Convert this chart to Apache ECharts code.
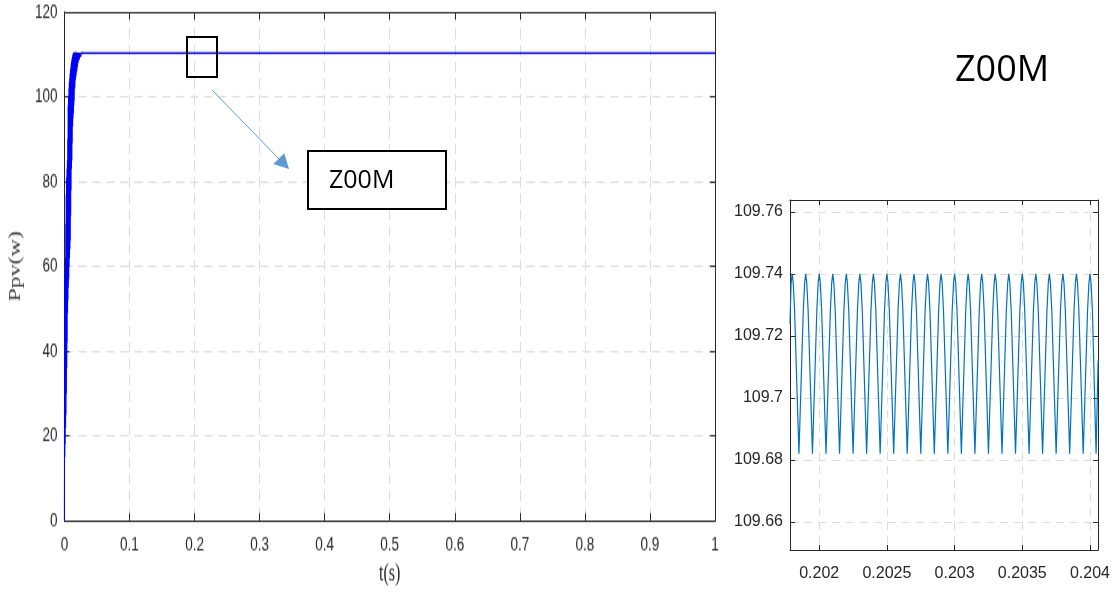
<!DOCTYPE html>
<html>
<head>
<meta charset="utf-8">
<script src="https://cdn.jsdelivr.net/npm/echarts@6/dist/echarts.min.js"></script>
<style>
  html, body { margin: 0; padding: 0; background: #fff; width: 1113px; height: 594px; overflow: hidden; }
  body { position: relative; }
  /* PV power plot is drawn at 2/3 height and stretched vertically */
  #pv { position: absolute; left: 0; top: 0; width: 740px; height: 396px; transform: scaleY(1.5); transform-origin: 0 0; }
  #zoom { position: absolute; left: 0; top: 0; width: 1113px; height: 594px; }
</style>
</head>
<body>
<div id="pv"></div>
<div id="zoom"></div>
<script>
// ---- PV power over the full run (s, W) ----
const ppvTime = [
  0, 0.0001, 0.0003, 0.0006, 0.0009, 0.0012, 0.0015, 0.0018, 0.0021, 0.0024,
  0.0027, 0.0030, 0.0033, 0.0036, 0.0039, 0.0042, 0.0045, 0.0048, 0.0051, 0.0054,
  0.0057, 0.0060, 0.0063, 0.0066, 0.0069, 0.0072, 0.0075, 0.0078, 0.0081, 0.0084,
  0.0087, 0.0090, 0.0093, 0.0096, 0.0099, 0.0102, 0.0105, 0.0108, 0.0111, 0.0114,
  0.0117, 0.0120, 0.0123, 0.0126, 0.0129, 0.0132, 0.0135, 0.0138, 0.0141, 0.0144,
  0.0147, 0.0150, 0.0155, 0.0160, 0.0165, 0.0170, 0.0175, 0.0180, 0.0185, 0.0190,
  0.0195, 0.0200, 0.0205, 0.0210, 0.0220, 0.0230, 0.0240, 0.0250, 0.0260, 0.0270,
  0.0285, 0.0300, 0.1, 0.2, 0.3, 0.4, 0.5, 0.6, 0.7, 0.8, 0.9, 1.0
];
const ppvPower = [
  0, 14, 58, 15, 59, 18, 62, 22, 70, 25,
  77, 30, 81, 36, 83, 42, 85, 49, 90, 52,
  98, 55, 100, 57, 102, 60, 103.5, 62, 104.5, 64,
  105.5, 66, 106.5, 72, 107, 78, 108, 83, 108.5, 85,
  109, 89, 109.5, 93, 110, 95, 110.2, 96, 110.4, 98,
  110.5, 99, 110.5, 102, 110.5, 104, 110.5, 105, 110.5, 106,
  110.4, 107, 110.4, 108, 110.4, 108.8, 110.4, 109.4, 110.4, 109.8,
  110.3, 110.3, 110.3, 110.3, 110.3, 110.3, 110.3, 110.3, 110.3, 110.3, 110.3, 110.3
];
const ppvXTicks = [0, 0.1, 0.2, 0.3, 0.4, 0.5, 0.6, 0.7, 0.8, 0.9, 1];
const ppvYTicks = [0, 20, 40, 60, 80, 100, 120];

// ---- Detail of the steady-state ripple (s, W) ----
const zoomTime = [
  0.201784, 0.201792,
  0.201800, 0.201808, 0.201818, 0.201850, 0.201882, 0.201892,
  0.201900, 0.201908, 0.201918, 0.201950, 0.201982, 0.201992,
  0.202000, 0.202008, 0.202018, 0.202050, 0.202082, 0.202092,
  0.202100, 0.202108, 0.202118, 0.202150, 0.202182, 0.202192,
  0.202200, 0.202208, 0.202218, 0.202250, 0.202282, 0.202292,
  0.202300, 0.202308, 0.202318, 0.202350, 0.202382, 0.202392,
  0.202400, 0.202408, 0.202418, 0.202450, 0.202482, 0.202492,
  0.202500, 0.202508, 0.202518, 0.202550, 0.202582, 0.202592,
  0.202600, 0.202608, 0.202618, 0.202650, 0.202682, 0.202692,
  0.202700, 0.202708, 0.202718, 0.202750, 0.202782, 0.202792,
  0.202800, 0.202808, 0.202818, 0.202850, 0.202882, 0.202892,
  0.202900, 0.202908, 0.202918, 0.202950, 0.202982, 0.202992,
  0.203000, 0.203008, 0.203018, 0.203050, 0.203082, 0.203092,
  0.203100, 0.203108, 0.203118, 0.203150, 0.203182, 0.203192,
  0.203200, 0.203208, 0.203218, 0.203250, 0.203282, 0.203292,
  0.203300, 0.203308, 0.203318, 0.203350, 0.203382, 0.203392,
  0.203400, 0.203408, 0.203418, 0.203450, 0.203482, 0.203492,
  0.203500, 0.203508, 0.203518, 0.203550, 0.203582, 0.203592,
  0.203600, 0.203608, 0.203618, 0.203650, 0.203682, 0.203692,
  0.203700, 0.203708, 0.203718, 0.203750, 0.203782, 0.203792,
  0.203800, 0.203808, 0.203818, 0.203850, 0.203882, 0.203892,
  0.203900, 0.203908, 0.203918, 0.203950, 0.203982, 0.203992,
  0.204000, 0.204008, 0.204018, 0.204045, 0.204060
];
const zoomPower = [
  109.724, 109.737,
  109.740, 109.737, 109.728, 109.682, 109.728, 109.737,
  109.740, 109.737, 109.728, 109.682, 109.728, 109.737,
  109.740, 109.737, 109.728, 109.682, 109.728, 109.737,
  109.740, 109.737, 109.728, 109.682, 109.728, 109.737,
  109.740, 109.737, 109.728, 109.682, 109.728, 109.737,
  109.740, 109.737, 109.728, 109.682, 109.728, 109.737,
  109.740, 109.737, 109.728, 109.682, 109.728, 109.737,
  109.740, 109.737, 109.728, 109.682, 109.728, 109.737,
  109.740, 109.737, 109.728, 109.682, 109.728, 109.737,
  109.740, 109.737, 109.728, 109.682, 109.728, 109.737,
  109.740, 109.737, 109.728, 109.682, 109.728, 109.737,
  109.740, 109.737, 109.728, 109.682, 109.728, 109.737,
  109.740, 109.737, 109.728, 109.682, 109.728, 109.737,
  109.740, 109.737, 109.728, 109.682, 109.728, 109.737,
  109.740, 109.737, 109.728, 109.682, 109.728, 109.737,
  109.740, 109.737, 109.728, 109.682, 109.728, 109.737,
  109.740, 109.737, 109.728, 109.682, 109.728, 109.737,
  109.740, 109.737, 109.728, 109.682, 109.728, 109.737,
  109.740, 109.737, 109.728, 109.682, 109.728, 109.737,
  109.740, 109.737, 109.728, 109.682, 109.728, 109.737,
  109.740, 109.737, 109.728, 109.682, 109.728, 109.737,
  109.740, 109.737, 109.728, 109.682, 109.728, 109.737,
  109.740, 109.737, 109.728, 109.682, 109.712
];
const zoomXTicks = [0.202, 0.2025, 0.203, 0.2035, 0.204];
const zoomYTicks = [109.66, 109.68, 109.7, 109.72, 109.74, 109.76];

const INK = '#262626';
const GRID = '#dcdcdc';
const SANS = '"Liberation Sans", Arial, sans-serif';
const SERIF = '"Liberation Serif", "Times New Roman", serif';

// ---------- full-run PV power ----------
const pv = echarts.init(document.getElementById('pv'));
function frameX(pos, ticks) {
  return {
    type: 'value', position: pos, min: ticks[0], max: ticks[ticks.length - 1],
    interval: ticks[1] - ticks[0],
    axisLine: { onZero: false, lineStyle: { color: INK, width: 1 } },
    axisTick: { inside: true, length: 5, lineStyle: { color: INK } },
    axisLabel: { show: pos === 'bottom', margin: 9, color: INK, fontFamily: SANS, fontSize: 13.5 },
    splitLine: { show: pos === 'bottom', lineStyle: { color: GRID, type: [7, 4] } }
  };
}
function frameY(pos, ticks) {
  return {
    type: 'value', position: pos, min: ticks[0], max: ticks[ticks.length - 1],
    interval: ticks[1] - ticks[0],
    axisLine: { onZero: false, lineStyle: { color: INK, width: 1 } },
    axisTick: { inside: true, length: 5, lineStyle: { color: INK } },
    axisLabel: { show: pos === 'left', margin: 7, color: INK, fontFamily: SANS, fontSize: 13.5 },
    splitLine: { show: pos === 'left', lineStyle: { color: GRID, type: [8, 6] } }
  };
}
const pvX = frameX('bottom', ppvXTicks);
pvX.name = 't(s)';
pvX.nameLocation = 'middle';
pvX.nameGap = 26;
pvX.nameTextStyle = { fontFamily: SERIF, fontSize: 16, color: INK };
const pvY = frameY('left', ppvYTicks);
pvY.name = 'Ppv(w)';
pvY.nameLocation = 'middle';
pvY.nameGap = 36;
pvY.nameTextStyle = { fontFamily: SERIF, fontSize: 16, color: '#3a3a3a' };

pv.setOption({
  animation: false,
  grid: { left: 63, right: 25, top: 8, bottom: 44.9 },
  xAxis: [pvX, frameX('top', ppvXTicks)],
  yAxis: [pvY, frameY('right', ppvYTicks)],
  series: [{
    type: 'line',
    data: ppvTime.map((t, i) => [t, ppvPower[i]]),
    showSymbol: false,
    clip: true,
    lineStyle: { color: '#0000ff', width: 1.1 },
    itemStyle: { color: '#0000ff' }
  }]
});

// ---------- ripple detail + callouts ----------
const zc = echarts.init(document.getElementById('zoom'));
const fmt = v => String(+v.toFixed(5));
function zAxisX(pos) {
  return {
    type: 'value', position: pos, min: 0.201784, max: 0.20406,
    axisLine: { onZero: false, lineStyle: { color: INK, width: 1 } },
    axisTick: { inside: true, length: 5, lineStyle: { color: INK }, customValues: zoomXTicks },
    axisLabel: { show: pos === 'bottom', margin: 16, color: INK, fontFamily: SANS, fontSize: 16,
                 customValues: zoomXTicks, formatter: fmt },
    splitLine: { show: pos === 'bottom', lineStyle: { color: GRID, type: [8, 6] } }
  };
}
function zAxisY(pos) {
  return {
    type: 'value', position: pos, min: 109.651, max: 109.7638,
    axisLine: { onZero: false, lineStyle: { color: INK, width: 1 } },
    axisTick: { inside: true, length: 5, lineStyle: { color: INK }, customValues: zoomYTicks },
    axisLabel: { show: pos === 'left', margin: 7, color: INK, fontFamily: SANS, fontSize: 16,
                 customValues: zoomYTicks, formatter: fmt },
    splitLine: { show: pos === 'left', lineStyle: { color: GRID, type: [8, 6] } }
  };
}
const CALLOUT = '#5b9bd5';
zc.setOption({
  animation: false,
  grid: { left: 790, right: 14, top: 200, bottom: 44, backgroundColor: '#fff', show: true, borderWidth: 0 },
  xAxis: [zAxisX('bottom'), zAxisX('top')],
  yAxis: [zAxisY('left'), zAxisY('right')],
  series: [{
    type: 'line',
    data: zoomTime.map((t, i) => [t, zoomPower[i]]),
    showSymbol: false,
    clip: true,
    lineStyle: { color: '#0072bd', width: 1.2 },
    itemStyle: { color: '#0072bd' }
  }],
  graphic: [
    { type: 'rect', shape: { x: 187, y: 37, width: 30, height: 40 },
      style: { fill: 'transparent', stroke: '#000', lineWidth: 2 } },
    { type: 'line', shape: { x1: 212, y1: 90, x2: 281, y2: 161 },
      style: { stroke: CALLOUT, lineWidth: 1 } },
    { type: 'polygon', shape: { points: [[289, 169], [273.3, 164], [284.3, 153.3]] },
      style: { fill: CALLOUT } },
    { type: 'rect', shape: { x: 308, y: 151, width: 138, height: 58 },
      style: { fill: '#fff', stroke: '#000', lineWidth: 2 } },
    { type: 'text', x: 329, y: 181,
      style: { text: 'Z00M', fontFamily: '"Open Sans", sans-serif', fontSize: 25, fill: '#000', verticalAlign: 'middle' } },
    { type: 'text', x: 955, y: 71,
      style: { text: 'Z00M', fontFamily: '"Open Sans", sans-serif', fontSize: 36, fill: '#000', verticalAlign: 'middle' } }
  ]
});
</script>
</body>
</html>
